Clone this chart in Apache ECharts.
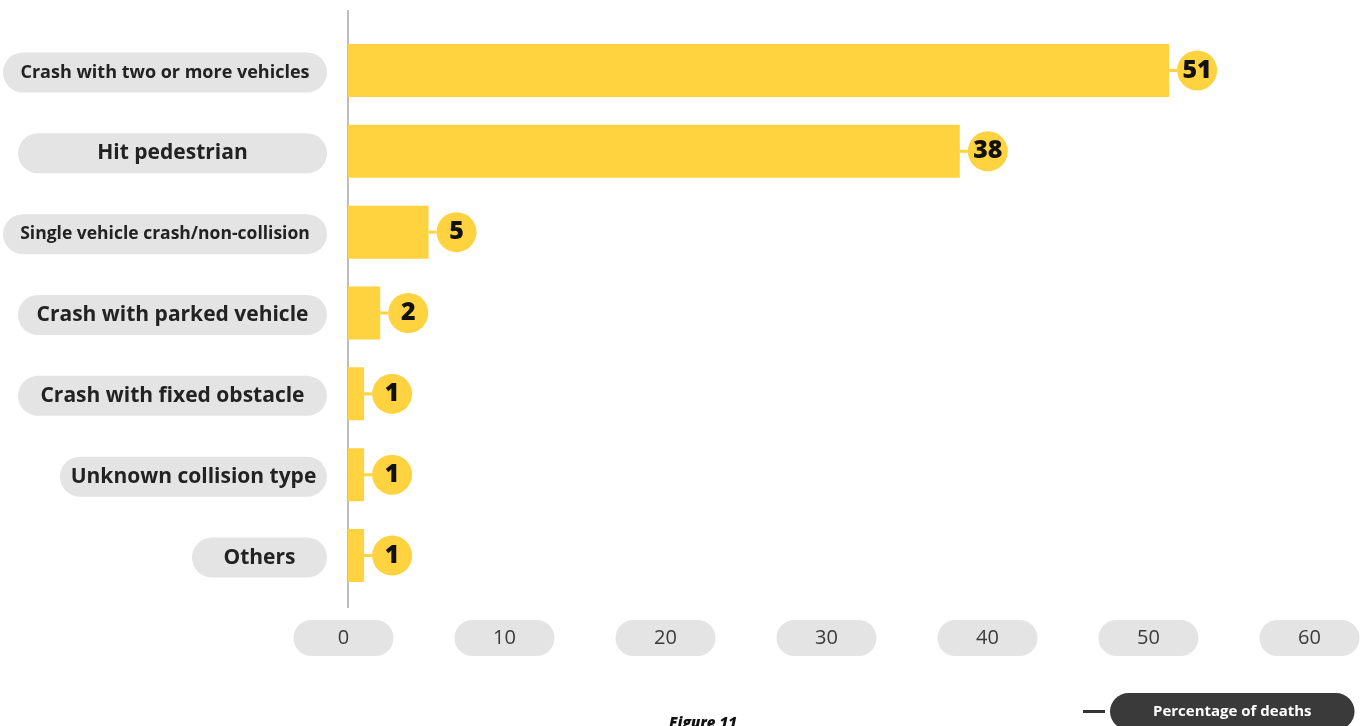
<!DOCTYPE html>
<html>
<head>
<meta charset="utf-8">
<script src="https://cdn.jsdelivr.net/npm/echarts@6/dist/echarts.min.js"></script>
<style>
html,body{margin:0;padding:0;background:#fff;}
#chart{width:1368px;height:726px;}
</style>
</head>
<body>
<div id="chart"></div>
<script>
var categories = [
  'Crash with two or more vehicles',
  'Hit pedestrian',
  'Single vehicle crash/non-collision',
  'Crash with parked vehicle',
  'Crash with fixed obstacle',
  'Unknown collision type',
  'Others'
];
var deathShare = [51, 38, 5, 2, 1, 1, 1];
var xTicks = [0, 10, 20, 30, 40, 50, 60];
var seriesName = 'Percentage of deaths';
var figureTitle = 'Figure 11';

var YELLOW = '#FFD23F';
var PILL = '#E4E4E4';
var FONT = '"Open Sans", "Noto Sans", sans-serif';

// pill styling for category labels (style only)
var pillWidths = [324, 309, 324, 309, 309, 267, 135];
var pillFonts = [18, 21, 17.5, 21, 21, 21, 21];
var catRich = {};
pillWidths.forEach(function (w, i) {
  catRich['c' + i] = {
    width: w, height: 40, lineHeight: 40, align: 'center',
    backgroundColor: PILL, borderRadius: 20,
    fontSize: pillFonts[i], fontWeight: 'bold', color: '#222', fontFamily: FONT
  };
});

var chart = echarts.init(document.getElementById('chart'));
chart.setOption({
  animation: false,
  backgroundColor: '#fff',
  title: {
    text: figureTitle,
    left: 664, top: 711,
    textStyle: { fontSize: 15, fontStyle: 'italic', fontWeight: 900, color: '#111', fontFamily: FONT }
  },
  legend: {
    data: [{ name: seriesName, icon: 'rect', itemStyle: { color: '#333' } }],
    left: 1083, top: 693, padding: 0,
    itemWidth: 22, itemHeight: 3,
    selectedMode: false,
    textStyle: {
      backgroundColor: '#3A3A3A', borderRadius: 19,
      padding: [11, 43, 11, 43],
      color: '#fff', fontSize: 15, fontWeight: 'bold', fontFamily: FONT
    }
  },
  grid: { left: 348, right: 54, top: 30, bottom: 130, containLabel: false },
  xAxis: {
    type: 'value', min: xTicks[0], max: xTicks[xTicks.length - 1], interval: 10,
    axisLine: { show: false }, axisTick: { show: false }, splitLine: { show: false },
    axisLabel: {
      margin: 24,
      formatter: function (v) { return '{p|' + v + '}{s|}'; },
      rich: {
        p: { width: 100, height: 36, lineHeight: 36, align: 'center', backgroundColor: PILL,
             borderRadius: 18, fontSize: 20, fontWeight: 'normal', color: '#3A3A3A', fontFamily: FONT },
        s: { width: 9 }
      }
    }
  },
  yAxis: {
    type: 'category', inverse: true, data: categories,
    axisLine: { show: false }, axisTick: { show: false },
    axisLabel: {
      margin: 21,
      padding: [4, 0, 0, 0],
      formatter: function (v, i) { return '{c' + i + '|' + v + '}'; },
      rich: catRich
    }
  },
  graphic: [{
    type: 'line', z: 0,
    shape: { x1: 348, y1: 10, x2: 348, y2: 608 },
    style: { stroke: '#BDBDBD', lineWidth: 2 }
  }],
  series: [{
    name: seriesName, type: 'bar', data: deathShare, barWidth: 53,
    itemStyle: { color: YELLOW }, z: 3,
    label: {
      show: true, position: 'right', distance: 0,
      formatter: function (p) { return '{l|}{c|' + p.value + '}'; },
      rich: {
        l: { width: 8, height: 3, backgroundColor: YELLOW },
        c: { width: 40, height: 40, lineHeight: 40, align: 'center', borderRadius: 20,
             backgroundColor: YELLOW, fontSize: 25, fontWeight: 800, color: '#111', fontFamily: FONT }
      }
    }
  }]
});
</script>
</body>
</html>
